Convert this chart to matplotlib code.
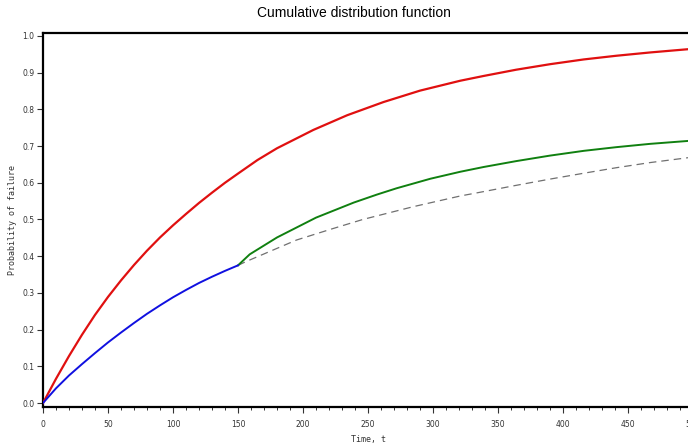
import matplotlib
matplotlib.use("Agg")
import matplotlib.pyplot as plt
from matplotlib.ticker import MultipleLocator

# Cumulative failure probability curves
red_t = [0, 10, 20, 30, 40, 50, 60, 70, 80, 90, 100, 110, 120, 130, 140, 150,
         165, 180, 208, 234, 262, 290, 321, 339, 364, 390, 416, 441, 467, 500]
red_p = [0.0, 0.066, 0.128, 0.186, 0.24, 0.289, 0.334, 0.376, 0.415, 0.451,
         0.484, 0.515, 0.545, 0.573, 0.60, 0.625, 0.662, 0.694, 0.744, 0.784,
         0.82, 0.851, 0.878, 0.891, 0.908, 0.923, 0.936, 0.946, 0.955, 0.965]

blue_t = [0, 10, 20, 30, 40, 50, 60, 70, 80, 90, 100, 110, 120, 130, 140, 150]
blue_p = [0.0, 0.040, 0.075, 0.106, 0.136, 0.165, 0.192, 0.218, 0.243, 0.266,
          0.288, 0.308, 0.327, 0.344, 0.36, 0.375]

green_t = [150, 159, 180, 210, 239, 257, 272, 298, 321, 339, 364, 390, 416,
           441, 467, 500]
green_p = [0.375, 0.405, 0.451, 0.505, 0.546, 0.568, 0.585, 0.611, 0.63,
           0.643, 0.659, 0.674, 0.687, 0.697, 0.706, 0.715]

dash_t = [150, 156, 195, 221, 246, 285, 321, 339, 364, 390, 416, 441, 467, 500]
dash_p = [0.375, 0.385, 0.444, 0.473, 0.50, 0.535, 0.564, 0.576, 0.593, 0.61,
          0.626, 0.641, 0.655, 0.67]

x_ticks = [0, 50, 100, 150, 200, 250, 300, 350, 400, 450, 500]
y_ticks = [0.0, 0.1, 0.2, 0.3, 0.4, 0.5, 0.6, 0.7, 0.8, 0.9, 1.0]

fig = plt.figure(figsize=(6.88, 4.48), dpi=100)
ax = fig.add_axes([43 / 688, 41.5 / 448, 650 / 688, 373.5 / 448])

ax.plot(red_t, red_p, color="#e01010", lw=1.6, zorder=3)
ax.plot(dash_t, dash_p, color="#707070", lw=0.9, ls=(0, (6, 4)), zorder=2)
ax.plot(green_t, green_p, color="#108010", lw=1.4, zorder=3)
ax.plot(blue_t, blue_p, color="#1010e0", lw=1.4, zorder=3)

ax.set_xlim(0, 500)
ax.set_ylim(-0.0095, 1.008)
ax.set_xticks(x_ticks)
ax.set_xticklabels([str(v) for v in x_ticks])
ax.set_yticks(y_ticks)
ax.set_yticklabels([f"{v:.1f}" for v in y_ticks])
ax.xaxis.set_minor_locator(MultipleLocator(10))

for side in ("top", "left", "bottom", "right"):
    ax.spines[side].set_linewidth(1.6)
    ax.spines[side].set_color("black")

ax.tick_params(axis="both", which="major", direction="out", length=4,
               width=0.8, labelsize=5.5, colors="#333333", pad=4)
ax.tick_params(axis="x", which="minor", direction="out", length=2.5, width=0.7,
               colors="#333333")
ax.tick_params(axis="y", which="major", pad=2)
ax.tick_params(axis="x", which="major", pad=6)

ax.set_xlabel("Time, t", fontsize=6, family="DejaVu Sans Mono", color="#333333",
              labelpad=4)
ax.set_ylabel("Probability of failure", fontsize=6, family="DejaVu Sans Mono",
              color="#333333", labelpad=4)

fig.text(354 / 688, 1 - 13 / 448, "Cumulative distribution function",
         ha="center", va="center", fontsize=10, family="Liberation Sans",
         color="black")

fig.savefig("out.png", dpi=100)
